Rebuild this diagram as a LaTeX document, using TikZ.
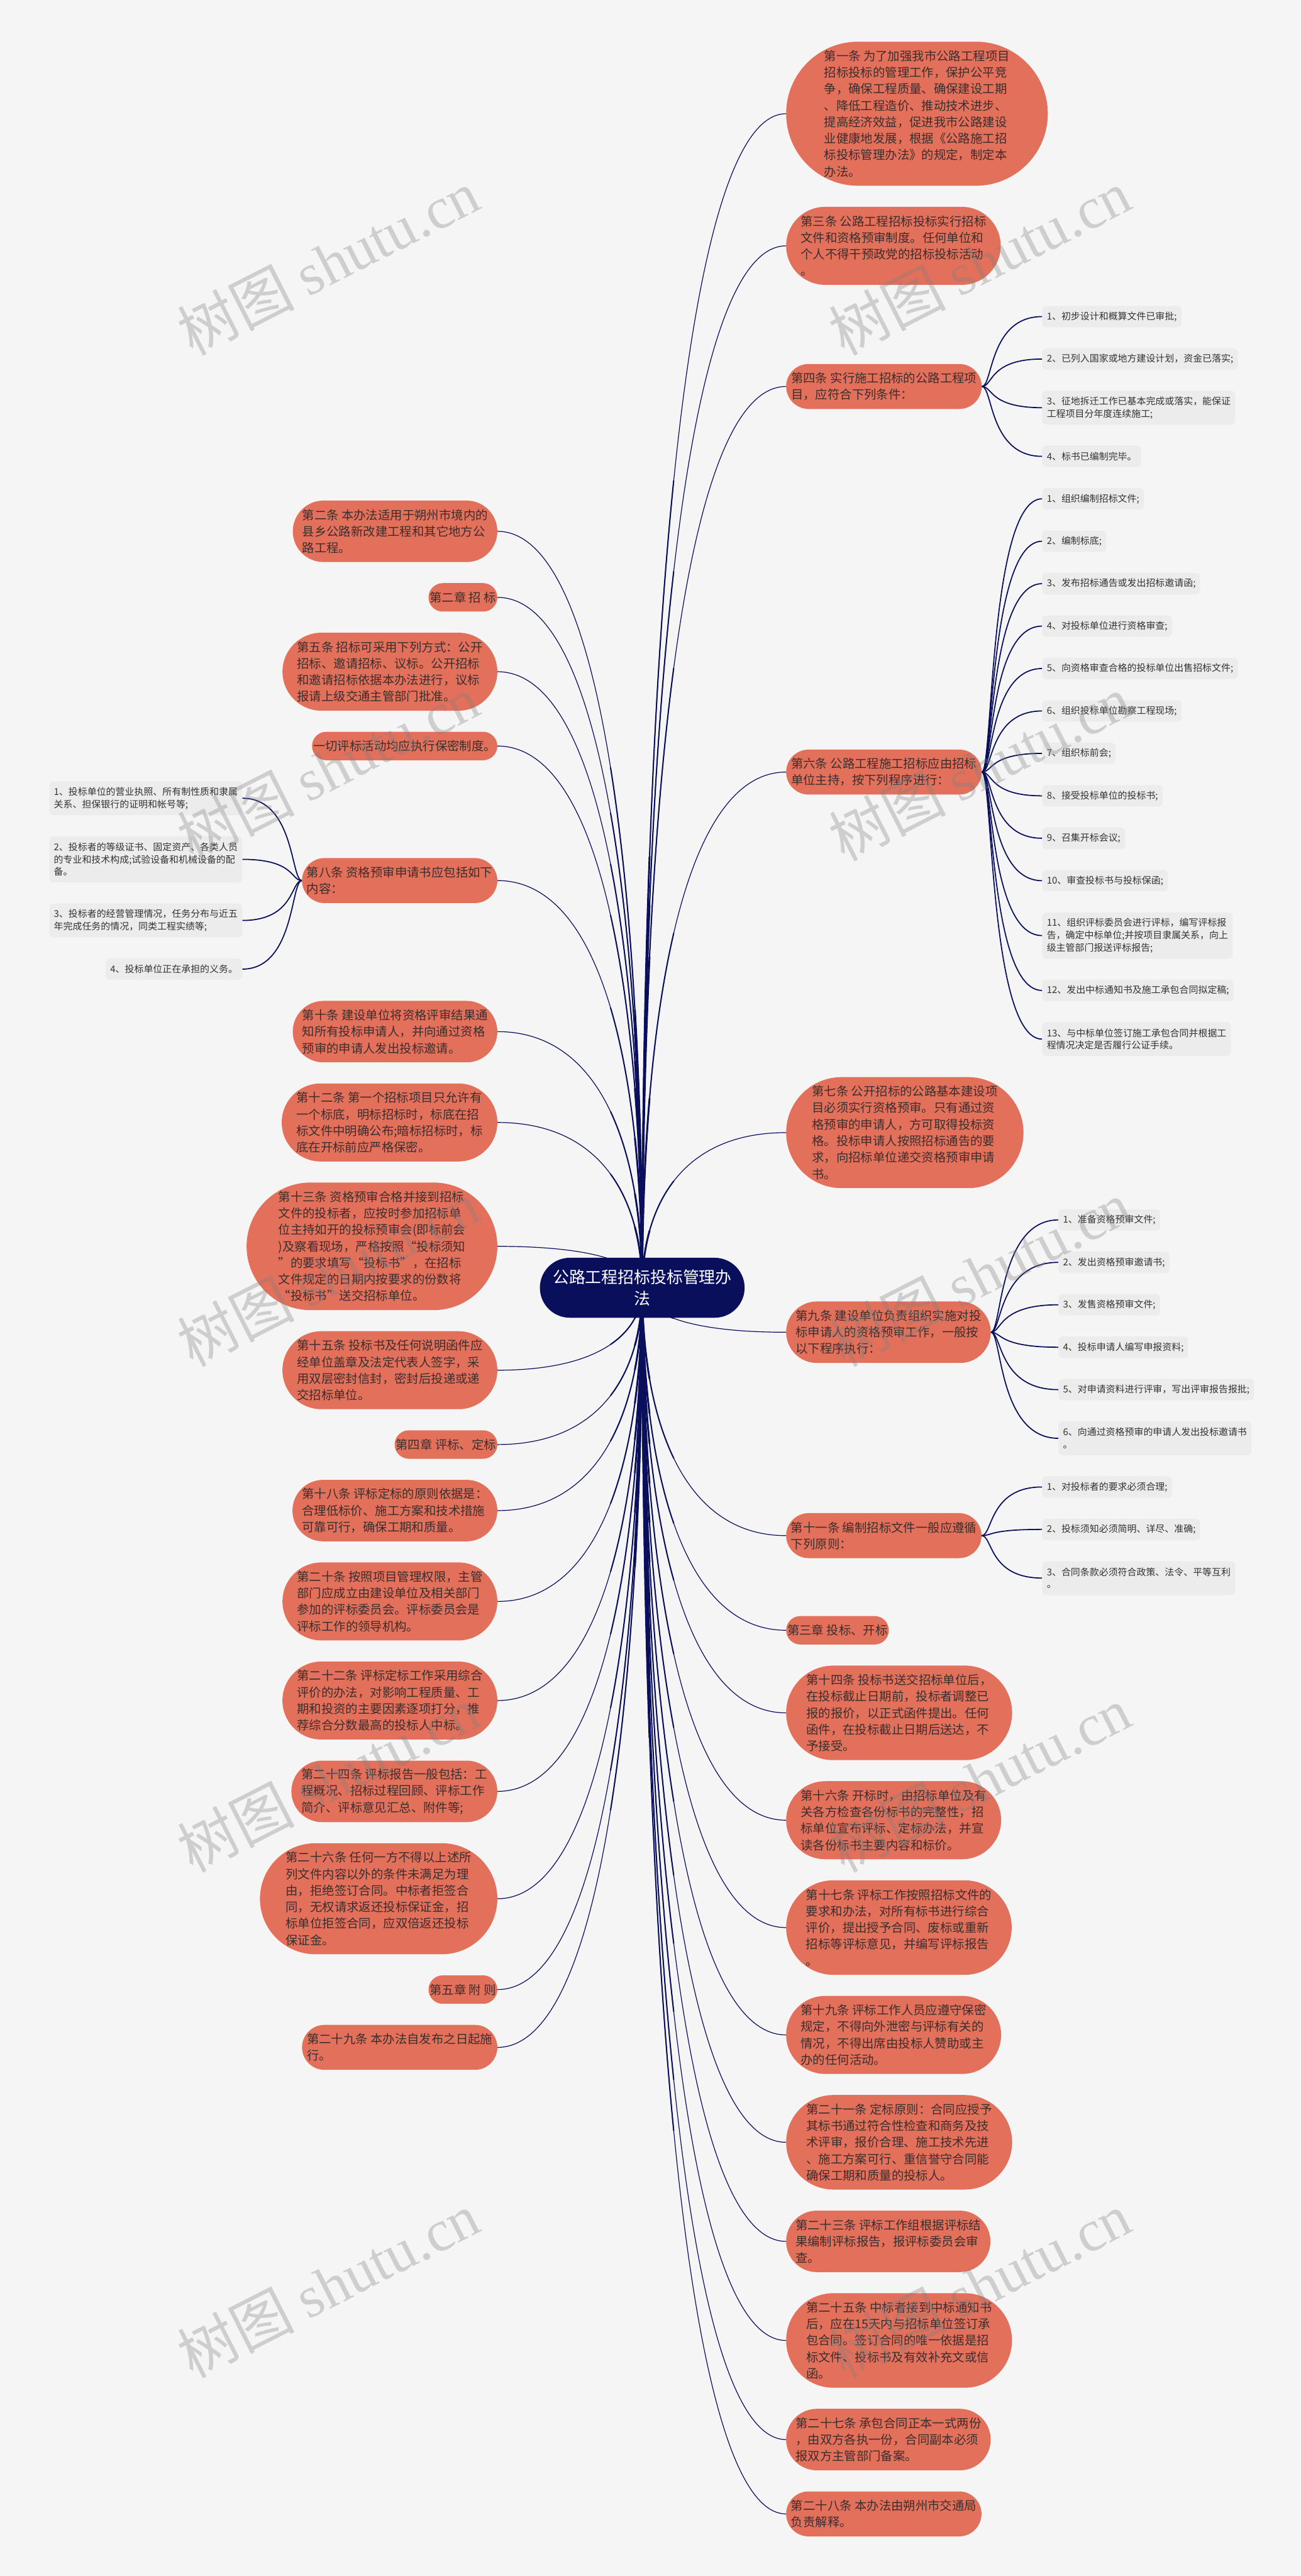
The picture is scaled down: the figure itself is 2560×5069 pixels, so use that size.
\documentclass[tikz,border=0pt]{standalone}
\usepackage{fontspec}
\setmainfont{Noto Sans CJK SC}
\newfontfamily\wmlat{Liberation Serif}
\usetikzlibrary{shapes.misc,calc}
\definecolor{bgcol}{HTML}{F5F5F5}
\definecolor{nodecol}{HTML}{E3705B}
\definecolor{navy}{HTML}{0A0F5C}
\definecolor{itemcol}{HTML}{ECECEC}
\definecolor{nodetxt}{HTML}{3A2E2E}
\definecolor{itemtxt}{HTML}{333333}
\definecolor{wmcol}{HTML}{808080}
\pgfdeclarelayer{bg}
\pgfsetlayers{bg,main}
\newcommand\rootlink[1]{%
  \coordinate (cS) at (root.center);
  \coordinate (cE) at (#1);
  \coordinate (cA) at ($(cS)!0.5!(cS|-cE)$);
  \coordinate (cB) at ($(cS|-cE)!0.25!(cE)$);
  \draw[rlink, line width=1.5pt] (cS) .. controls (cA) and (cB) .. (#1);
  \coordinate (cP1) at ($(cS)!0.5!(cA)$);
  \coordinate (cAB) at ($(cA)!0.5!(cB)$);
  \coordinate (cBE) at ($(cB)!0.5!(cE)$);
  \coordinate (cP2) at ($(cP1)!0.5!(cAB)$);
  \coordinate (cR) at ($(cAB)!0.5!(cBE)$);
  \coordinate (cP3) at ($(cP2)!0.5!(cR)$);
  \draw[rlink, line width=2.5pt] (cS) .. controls (cP1) and (cP2) .. (cP3);
  \coordinate (cQ1) at ($(cS)!0.5!(cP1)$);
  \coordinate (cM) at ($(cP1)!0.5!(cP2)$);
  \coordinate (cN) at ($(cP2)!0.5!(cP3)$);
  \coordinate (cQ2) at ($(cQ1)!0.5!(cM)$);
  \coordinate (cO) at ($(cM)!0.5!(cN)$);
  \coordinate (cQ3) at ($(cQ2)!0.5!(cO)$);
  \draw[rlink, line width=3.6pt] (cS) .. controls (cQ1) and (cQ2) .. (cQ3);
}
\newcommand\rsub[2]{\draw[blink] (#1.east) .. controls ($(#1.east)+(22,0)$) and ($(#1.east|-#2.west)+(14,0)$) .. (#2.west);}
\newcommand\lsub[2]{\draw[blink] (#1.west) .. controls ($(#1.west)+(-22,0)$) and ($(#1.west|-#2.east)+(-14,0)$) .. (#2.east);}
\tikzset{
  topic/.style={rounded rectangle, fill=nodecol, text=nodetxt, font=\fontsize{24}{32.5}\selectfont, align=left, inner xsep=0pt, inner ysep=2pt, minimum height={23.5+32.5*#1}},
  leaf/.style={rectangle, rounded corners=7pt, fill=itemcol, text=itemtxt, font=\fontsize{18.5}{24.5}\selectfont, align=left, inner xsep=9pt, inner ysep=2pt, minimum height={17.5+24.5*#1}},
  rootnode/.style={rounded rectangle, fill=navy, text=white, font=\fontsize{32}{43}\selectfont, align=center, inner xsep=13pt, inner ysep=2pt, minimum height=118pt},
  rlink/.style={draw=navy, line cap=round},
  blink/.style={draw=navy, line width=2.2pt},
  wm/.style={text=wmcol, opacity=0.33, rotate=27, font=\fontsize{115}{115}\selectfont}
}
\begin{document}
\begin{tikzpicture}[x=1pt,y=-1pt]
\useasboundingbox (0,0) rectangle (2560,5069);
% root
\node[rootnode] (root) at (1264,2534) {公路工程招标投标管理办\\法};
% ---------- right side ----------
\begin{scope}[every node/.append style={anchor=west}]
\node[topic=8] (r1) at (1547,223.75) {第一条 为了加强我市公路工程项目\\招标投标的管理工作，保护公平竞\\争，确保工程质量、确保建设工期\\、降低工程造价、推动技术进步、\\提高经济效益，促进我市公路建设\\业健康地发展，根据《公路施工招\\标投标管理办法》的规定，制定本\\办法。};
\node[topic=4] (r3) at (1547,483.75) {第三条 公路工程招标投标实行招标\\文件和资格预审制度。任何单位和\\个人不得干预政党的招标投标活动\\。};
\node[topic=2] (r4) at (1547,760.5) {第四条 实行施工招标的公路工程项\\目，应符合下列条件：};
\node[leaf=1] (r4a) at (2051,623) {1、初步设计和概算文件已审批;};
\node[leaf=1] (r4b) at (2051,706.5) {2、已列入国家或地方建设计划，资金已落实;};
\node[leaf=2] (r4c) at (2051,802.25) {3、征地拆迁工作已基本完成或落实，能保证\\工程项目分年度连续施工;};
\node[leaf=1] (r4d) at (2051,898) {4、标书已编制完毕。};
\node[topic=2] (r6) at (1547,1519.25) {第六条 公路工程施工招标应由招标\\单位主持，按下列程序进行：};
\node[leaf=1] (r6a) at (2051,981.5) {1、组织编制招标文件;};
\node[leaf=1] (r6b) at (2051,1065) {2、编制标底;};
\node[leaf=1] (r6c) at (2051,1148.5) {3、发布招标通告或发出招标邀请函;};
\node[leaf=1] (r6d) at (2051,1232) {4、对投标单位进行资格审查;};
\node[leaf=1] (r6e) at (2051,1315.5) {5、向资格审查合格的投标单位出售招标文件;};
\node[leaf=1] (r6f) at (2051,1399) {6、组织投标单位勘察工程现场;};
\node[leaf=1] (r6g) at (2051,1482.5) {7、组织标前会;};
\node[leaf=1] (r6h) at (2051,1566) {8、接受投标单位的投标书;};
\node[leaf=1] (r6i) at (2051,1649.5) {9、召集开标会议;};
\node[leaf=1] (r6j) at (2051,1733) {10、审查投标书与投标保函;};
\node[leaf=3] (r6k) at (2051,1841) {11、组织评标委员会进行评标，编写评标报\\告，确定中标单位;并按项目隶属关系，向上\\级主管部门报送评标报告;};
\node[leaf=1] (r6l) at (2051,1949) {12、发出中标通知书及施工承包合同拟定稿;};
\node[leaf=2] (r6m) at (2051,2044.75) {13、与中标单位签订施工承包合同并根据工\\程情况决定是否履行公证手续。};
\node[topic=6] (r7) at (1547,2228.75) {第七条 公开招标的公路基本建设项\\目必须实行资格预审。只有通过资\\格预审的申请人，方可取得投标资\\格。投标申请人按照招标通告的要\\求，向招标单位递交资格预审申请\\书。};
\node[topic=3] (r9) at (1547,2621.5) {第九条 建设单位负责组织实施对投\\标申请人的资格预审工作，一般按\\以下程序执行：};
\node[leaf=1] (r9a) at (2083,2400.5) {1、准备资格预审文件;};
\node[leaf=1] (r9b) at (2083,2484) {2、发出资格预审邀请书;};
\node[leaf=1] (r9c) at (2083,2567.5) {3、发售资格预审文件;};
\node[leaf=1] (r9d) at (2083,2651) {4、投标申请人编写申报资料;};
\node[leaf=1] (r9e) at (2083,2734.5) {5、对申请资料进行评审，写出评审报告报批;};
\node[leaf=2] (r9f) at (2083,2830.25) {6、向通过资格预审的申请人发出投标邀请书\\。};
\node[topic=2] (r11) at (1547,3021.75) {第十一条 编制招标文件一般应遵循\\下列原则：};
\node[leaf=1] (r11a) at (2051,2926) {1、对投标者的要求必须合理;};
\node[leaf=1] (r11b) at (2051,3009.5) {2、投标须知必须简明、详尽、准确;};
\node[leaf=2] (r11c) at (2051,3105.25) {3、合同条款必须符合政策、法令、平等互利\\。};
\node[topic=1] (rch3) at (1547,3208) {第三章 投标、开标};
\node[topic=5] (r14) at (1547,3370.5) {第十四条 投标书送交招标单位后，\\在投标截止日期前，投标者调整已\\报的报价，以正式函件提出。任何\\函件，在投标截止日期后送达，不\\予接受。};
\node[topic=4] (r16) at (1547,3581.75) {第十六条 开标时，由招标单位及有\\关各方检查各份标书的完整性，招\\标单位宣布评标、定标办法，并宣\\读各份标书主要内容和标价。};
\node[topic=5] (r17) at (1547,3793) {第十七条 评标工作按照招标文件的\\要求和办法，对所有标书进行综合\\评价，提出授予合同、废标或重新\\招标等评标意见，并编写评标报告\\。};
\node[topic=4] (r19) at (1547,4004.25) {第十九条 评标工作人员应遵守保密\\规定，不得向外泄密与评标有关的\\情况，不得出席由投标人赞助或主\\办的任何活动。};
\node[topic=5] (r21) at (1547,4215.5) {第二十一条 定标原则：合同应授予\\其标书通过符合性检查和商务及技\\术评审，报价合理、施工技术先进\\、施工方案可行、重信誉守合同能\\确保工期和质量的投标人。};
\node[topic=3] (r23) at (1547,4410.5) {第二十三条 评标工作组根据评标结\\果编制评标报告，报评标委员会审\\查。};
\node[topic=5] (r25) at (1547,4605.5) {第二十五条 中标者接到中标通知书\\后，应在15天内与招标单位签订承\\包合同。签订合同的唯一依据是招\\标文件、投标书及有效补充文或信\\函。};
\node[topic=3] (r27) at (1547,4800.5) {第二十七条 承包合同正本一式两份\\，由双方各执一份，合同副本必须\\报双方主管部门备案。};
\node[topic=2] (r28) at (1547,4946.75) {第二十八条 本办法由朔州市交通局\\负责解释。};
\end{scope}
% ---------- left side ----------
\begin{scope}[every node/.append style={anchor=east}]
\node[topic=3] (l2) at (979,1045.5) {第二条 本办法适用于朔州市境内的\\县乡公路新改建工程和其它地方公\\路工程。};
\node[topic=1] (lch2) at (979,1175.5) {第二章 招 标};
\node[topic=4] (l5) at (979,1321.75) {第五条 招标可采用下列方式：公开\\招标、邀请招标、议标。公开招标\\和邀请招标依据本办法进行，议标\\报请上级交通主管部门批准。};
\node[topic=1] (lall) at (979,1468) {一切评标活动均应执行保密制度。};
\node[topic=2] (l8) at (979,1732.75) {第八条 资格预审申请书应包括如下\\内容：};
\node[leaf=2] (l8a) at (477,1570.75) {1、投标单位的营业执照、所有制性质和隶属\\关系、担保银行的证明和帐号等;};
\node[leaf=3] (l8b) at (477,1691) {2、投标者的等级证书、固定资产、各类人员\\的专业和技术构成;试验设备和机械设备的配\\备。};
\node[leaf=2] (l8c) at (477,1811.25) {3、投标者的经营管理情况，任务分布与近五\\年完成任务的情况，同类工程实绩等;};
\node[leaf=1] (l8d) at (477,1907) {4、投标单位正在承担的义务。};
\node[topic=3] (l10) at (979,2030) {第十条 建设单位将资格评审结果通\\知所有投标申请人，并向通过资格\\预审的申请人发出投标邀请。};
\node[topic=4] (l12) at (979,2208.75) {第十二条 第一个招标项目只允许有\\一个标底，明标招标时，标底在招\\标文件中明确公布;暗标招标时，标\\底在开标前应严格保密。};
\node[topic=7] (l13) at (979,2452.5) {第十三条 资格预审合格并接到招标\\文件的投标者，应按时参加招标单\\位主持如开的投标预审会(即标前会\\)及察看现场，严格按照“投标须知\\”的要求填写“投标书”，在招标\\文件规定的日期内按要求的份数将\\“投标书”送交招标单位。};
\node[topic=4] (l15) at (979,2696.25) {第十五条 投标书及任何说明函件应\\经单位盖章及法定代表人签字，采\\用双层密封信封，密封后投递或递\\交招标单位。};
\node[topic=1] (lch4) at (979,2842.5) {第四章 评标、定标};
\node[topic=3] (l18) at (979,2972.5) {第十八条 评标定标的原则依据是：\\合理低标价、施工方案和技术措施\\可靠可行，确保工期和质量。};
\node[topic=4] (l20) at (979,3151.25) {第二十条 按照项目管理权限，主管\\部门应成立由建设单位及相关部门\\参加的评标委员会。评标委员会是\\评标工作的领导机构。};
\node[topic=4] (l22) at (979,3346.25) {第二十二条 评标定标工作采用综合\\评价的办法，对影响工程质量、工\\期和投资的主要因素逐项打分，推\\荐综合分数最高的投标人中标。};
\node[topic=3] (l24) at (979,3525) {第二十四条 评标报告一般包括：工\\程概况、招标过程回顾、评标工作\\简介、评标意见汇总、附件等;};
\node[topic=6] (l26) at (979,3736.25) {第二十六条 任何一方不得以上述所\\列文件内容以外的条件未满足为理\\由，拒绝签订合同。中标者拒签合\\同，无权请求返还投标保证金，招\\标单位拒签合同，应双倍返还投标\\保证金。};
\node[topic=1] (lch5) at (979,3915) {第五章 附 则};
\node[topic=2] (l29) at (979,4028.75) {第二十九条 本办法自发布之日起施\\行。};
\end{scope}
% ---------- connectors ----------
\begin{pgfonlayer}{bg}
\fill[bgcol] (0,0) rectangle (2560,5069);
\foreach \n in {r1,r3,r4,r6,r7,r9,r11,rch3,r14,r16,r17,r19,r21,r23,r25,r27,r28}{\rootlink{\n.west}}
\foreach \n in {l2,lch2,l5,lall,l8,l10,l12,l13,l15,lch4,l18,l20,l22,l24,l26,lch5,l29}{\rootlink{\n.east}}
\foreach \c in {r4a,r4b,r4c,r4d}{\rsub{r4}{\c}}
\foreach \c in {r6a,r6b,r6c,r6d,r6e,r6f,r6g,r6h,r6i,r6j,r6k,r6l,r6m}{\rsub{r6}{\c}}
\foreach \c in {r9a,r9b,r9c,r9d,r9e,r9f}{\rsub{r9}{\c}}
\foreach \c in {r11a,r11b,r11c}{\rsub{r11}{\c}}
\foreach \c in {l8a,l8b,l8c,l8d}{\lsub{l8}{\c}}
\end{pgfonlayer}
% ---------- watermark ----------
\foreach \y [count=\i] in {516,1511,2506,3501,4496}{
  \node[wm] (wl\i) at (646,\y) {树图 {\wmlat shutu.cn}};
  \node[wm] (wr\i) at (1928,\y) {树图 {\wmlat shutu.cn}};
}
\end{tikzpicture}
\end{document}
